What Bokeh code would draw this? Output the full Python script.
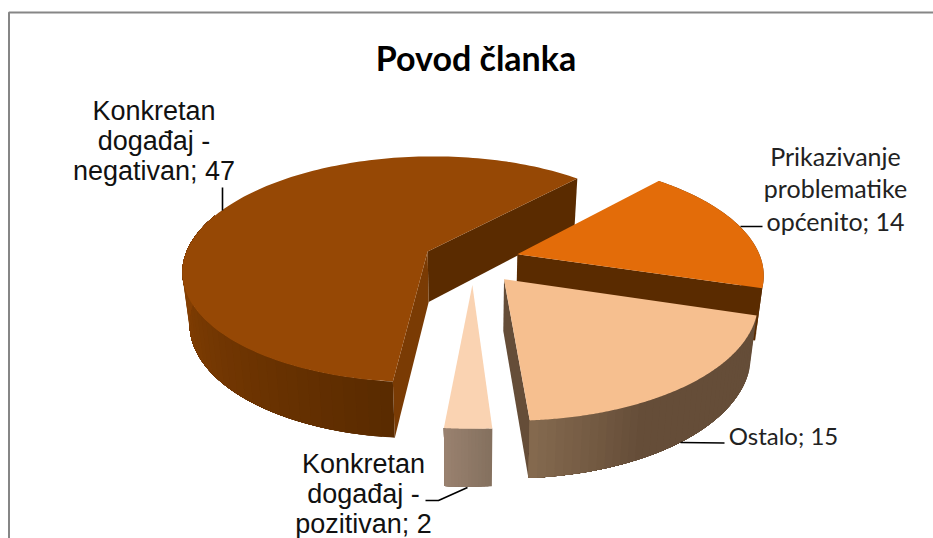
import numpy as np
from bokeh.plotting import figure
from bokeh.core.properties import value
from bokeh.embed import file_html
from bokeh.resources import INLINE

# --- data
title_text = "Povod članka"
categories = ["Konkretan događaj - negativan", "Prikazivanje problematike općenito", "Ostalo", "Konkretan događaj - pozitivan"]
counts = [47, 14, 15, 2]

# --- styling
top_colors = ["#964805", "#e36c09", "#f6bf8f", "#fad3b2"]
CAL = "Lato"
ARIAL = "Liberation Sans"

# --- 3D pie projection parameters (unit disk -> page)
CX, CY, SX, SY, K = 472.0, 261.0, 244.0, 112.8, 0.16
EXPLODE = 0.19
DEPTH, K2, BOTTOM_SCALE = 51.0, 0.10, 0.975
START = 185.4
nudge = [0.0, 0.0]


def proj(u, v):
    w = 1 + K * v
    return CX + SX * u / w + nudge[0], CY - SY * v / w + nudge[1]


def proj_bottom(u, v):
    x, y = proj(u, v)
    return CX + nudge[0] + (x - CX - nudge[0]) * BOTTOM_SCALE, y + DEPTH / (1 + K2 * v)


spans = []
a = START
for c in counts:
    d = c / sum(counts) * 360
    spans.append((a, a + d))
    a += d


def disk(t, off):
    r = np.radians(t)
    return off[0] + np.sin(r), off[1] + np.cos(r)


def offset(s):
    m = np.radians((s[0] + s[1]) / 2)
    return EXPLODE * np.sin(m), EXPLODE * np.cos(m)


p = figure(width=933, height=538, x_range=(0, 933), y_range=(538, 0),
           output_backend="svg", toolbar_location=None, min_border=0,
           background_fill_color="white", border_fill_color="white", outline_line_color=None)
p.axis.visible = False
p.grid.visible = False
p.styles = {"position": "absolute", "left": "0px", "top": "0px"}


def poly(xs, ys, color):
    p.patch(list(xs), list(ys), fill_color=color, line_color=None)


def lerp(c1, c2, f):
    f = min(max(f, 0), 1)
    a = [int(c1[i:i + 2], 16) for i in (1, 3, 5)]
    b = [int(c2[i:i + 2], 16) for i in (1, 3, 5)]
    return "#%02x%02x%02x" % tuple(round(x + (y - x) * f) for x, y in zip(a, b))


def outer_wall(off, t0, t1, colorf, bands=24):
    # each band runs from its start to the far end, so that later bands paint over
    # the earlier ones and no seams can show
    ts = np.linspace(t0, t1, bands + 1)
    for a0 in ts[:-1]:
        arc = np.linspace(a0, t1, max(3, int(t1 - a0) + 2))
        uv = [disk(t, off) for t in arc]
        top = [proj(u, v) for u, v in uv]
        bot = [proj_bottom(u, v) for u, v in uv][::-1]
        pts = top + bot
        poly([q[0] for q in pts], [q[1] for q in pts], colorf(a0))


def radial_wall(off, t, color):
    u, v = disk(t, off)
    ax, ay = proj(*off)
    ex, ey = proj(u, v)
    fx, fy = proj_bottom(u, v)
    gx, gy = proj_bottom(*off)
    poly([ax, ex, fx, gx], [ay, ey, fy, gy], color)


def top_face(s, off, color):
    ts = np.linspace(s[0], s[1], 160)
    uv = [disk(t, off) for t in ts]
    pts = [proj(*off)] + [proj(u, v) for u, v in uv]
    p.patch([q[0] for q in pts], [q[1] for q in pts], fill_color=color, line_color=None)


# negativan
nudge[:] = [-3.0, -1.5]
s = spans[0]; off = offset(s)
radial_wall(off, s[1], "#5a2b00")
radial_wall(off, s[0], "#7a3b04")
outer_wall(off, s[0], 290, lambda t: lerp("#5a2b00", "#843f03", (t - s[0]) / 75), bands=40)
top_face(s, off, top_colors[0])

# Prikazivanje
nudge[:] = [0.5, -1.5]
s = spans[1]; off = offset(s)
outer_wall(off, s[0], s[1], lambda t: "#5a2b00", bands=1)
radial_wall(off, s[1], "#5a2b00")
top_face(s, off, top_colors[1])

# Ostalo
nudge[:] = [2.0, 0.5]
s = spans[2]; off = offset(s)
radial_wall(off, s[1], "#654d38")
outer_wall(off, s[0], s[1], lambda t: lerp("#866b50", "#654d38", (s[1] - t) / 24), bands=40)
top_face(s, off, top_colors[2])

# pozitivan
nudge[:] = [0.5, 1.5]
s = spans[3]; off = offset(s)
outer_wall(off, s[0], s[1], lambda t: lerp("#85715f", "#9a8270", (t - s[0]) / (s[1] - s[0])), bands=14)
top_face(s, off, top_colors[3])

# frame (left and top only, the right and bottom lie outside the crop)
p.line([8.5, 8.5, 933], [538, 12, 12], line_color="#868686", line_width=2)

# leaders
for xs, ys in [([222, 222], [187, 210]),
               ([740, 762], [226, 226]),
               ([680, 724], [442, 442.5]),
               ([467, 438, 425], [487, 500, 500])]:
    p.line(xs, ys, line_color="black", line_width=1.6)


def put(lines, x, y0, dy, font, size, color="black", style="normal"):
    for i, t in enumerate(lines):
        p.text([x], [y0 + i * dy], text=[t], text_font=value(font), text_font_size=size,
               text_align="center", text_baseline="middle", text_color=color, text_font_style=style)


put([title_text], 475.5, 57, 0, CAL, "34px", "black", "bold")
put(["Konkretan", "događaj -", f"negativan; {counts[0]}"], 153.5, 110.5, 30, ARIAL, "27px", "#111111")
put(["Prikazivanje", "problematike", f"općenito; {counts[1]}"], 835, 155, 32.5, CAL, "25px", "#222222")
put([f"Ostalo; {counts[2]}"], 783, 434.5, 0, CAL, "24px", "#222222")
put(["Konkretan", "događaj -", f"pozitivan; {counts[3]}"], 363, 463.5, 30, ARIAL, "27px", "#111111")

open("out.html", "w").write(file_html(p, INLINE))
